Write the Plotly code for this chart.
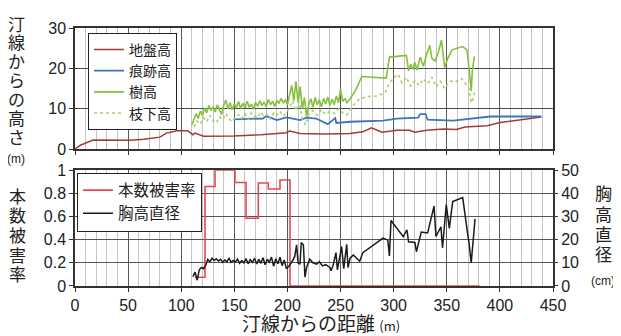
import plotly.graph_objects as go

# ---------------- data ----------------
ground_x = [0, 5, 17, 30, 52, 65, 80, 86, 96, 106, 111, 113, 118, 121, 149, 175, 199, 202, 212, 235, 259, 271, 279, 285, 289, 303, 315, 320, 331, 347, 359, 367, 388, 400, 419, 439]
ground_y = [0, 1.0, 2.3, 2.2, 2.2, 2.5, 3.0, 4.0, 4.6, 4.6, 3.6, 4.0, 3.6, 3.2, 3.3, 3.6, 4.1, 4.5, 3.9, 3.8, 3.9, 4.3, 5.3, 4.7, 4.2, 4.7, 4.7, 4.2, 4.7, 5.0, 4.9, 5.5, 5.8, 6.6, 7.2, 8.0]

trace_x = [149, 177, 180, 184, 190, 199, 212, 218, 227, 238, 243, 245, 246, 259, 290, 303, 323, 325, 330, 332, 356, 375, 391, 439]
trace_y = [7.4, 7.6, 8.2, 7.8, 7.2, 7.9, 7.2, 7.8, 7.6, 6.2, 7.3, 7.7, 6.5, 6.8, 7.1, 7.6, 7.8, 8.7, 8.7, 7.3, 7.1, 7.7, 8.1, 8.1]

tree_x = [110, 112, 114, 116, 118, 120, 122, 124, 126, 128, 130, 132, 134, 136, 138, 140, 142, 144, 146, 148,
          150, 152, 154, 156, 158, 160, 162, 164, 166, 168, 170, 172, 174, 176, 178, 180, 182, 184, 186, 188,
          190, 192, 194, 196, 198, 200, 202, 204, 206, 208, 210, 212, 214, 216, 218, 220, 222, 224, 226, 228,
          230, 232, 234, 236, 238, 240, 242, 244, 246, 248, 250, 252, 254, 256, 259, 264, 270, 293, 296, 312,
          314, 316, 318, 320, 322, 325, 328, 331, 334, 336, 339, 342, 345, 347, 348, 351, 355, 365, 369, 371,
          372, 373, 374, 376]
tree_y = [6.0, 7.5, 8.8, 7.6, 9.5, 8.4, 10.2, 9.0, 10.8, 9.6, 10.5, 9.2, 11.0, 9.8, 8.6, 10.9, 12.2, 10.0, 11.5, 9.8,
          11.2, 10.3, 11.8, 10.0, 11.4, 10.2, 11.9, 10.4, 11.2, 9.9, 11.6, 10.6, 12.0, 10.8, 11.7, 10.5, 12.3, 11.0, 11.9, 10.6,
          12.1, 11.3, 12.6, 11.5, 12.2, 11.0, 13.5, 15.8, 12.0, 16.8, 11.5, 15.5, 10.0, 12.8, 8.0, 11.0, 12.5, 10.4, 12.8, 11.0,
          12.2, 10.5, 12.6, 11.2, 12.9, 10.8, 12.4, 11.0, 13.2, 11.5, 14.9, 11.8, 12.6, 11.5, 12.5, 14.5, 18.0, 17.6, 22.8, 23.2,
          19.4, 21.0, 19.8, 21.5, 19.6, 22.8, 20.5, 23.5, 25.7, 22.5, 21.8, 24.0, 27.0, 23.0, 20.2, 22.5, 24.6, 25.4, 24.6, 20.0,
          16.2, 14.4, 19.4, 23.0]

branch_x = [112, 115, 118, 121, 124, 127, 130, 133, 136, 139, 142, 145, 148, 151, 154, 157, 160, 163, 166, 169,
            172, 175, 178, 181, 184, 187, 190, 193, 196, 199, 202, 205, 208, 211, 214, 217, 220, 224, 228, 232,
            236, 240, 244, 248, 252, 256, 260, 264, 268, 275, 285, 292, 296, 300, 304, 308, 312, 316, 320, 324,
            328, 332, 336, 340, 344, 348, 352, 356, 360, 364, 368, 371, 373, 375, 376]
branch_y = [5.5, 7.0, 6.2, 7.8, 6.8, 8.4, 7.0, 6.5, 8.0, 7.2, 8.8, 7.5, 6.8, 7.9, 8.5, 7.6, 8.8, 7.4, 9.0, 8.2,
            7.8, 9.2, 8.0, 8.6, 7.5, 9.0, 8.4, 9.4, 8.2, 9.0, 10.5, 12.0, 9.5, 11.8, 7.5, 6.0, 8.5, 9.6, 8.4, 9.8,
            8.6, 9.4, 8.8, 10.0, 9.0, 8.5, 10.2, 11.5, 12.5, 13.0, 13.2, 14.0, 16.5, 17.5, 18.6, 16.4, 17.8, 15.6, 17.0, 15.8,
            17.4, 16.2, 17.8, 15.4, 16.8, 15.0, 16.6, 17.0, 16.8, 17.5, 16.0, 15.0, 11.5, 12.5, 14.0]

damage_x = [113, 122.4, 131.8, 150.6, 161, 172.6, 182, 193, 202.4, 381]
damage_y = [0.076, 0.86, 1.0, 0.894, 0.586, 0.89, 0.838, 0.916, 0, 0]

dbh_x = [111, 113, 115, 117, 119, 121, 123, 125, 127, 129, 131, 133, 135, 137, 139, 141, 143, 145, 147, 149,
         151, 153, 155, 157, 159, 161, 163, 165, 167, 169, 171, 173, 175, 177, 179, 181, 183, 185, 187, 189,
         191, 193, 195, 197, 199, 202, 205, 207, 208.6, 210, 211.8, 213, 215, 216.5, 218, 221, 224, 227.5, 230, 233,
         236, 240, 241, 243, 245.7, 247, 249, 251, 253, 255.8, 257, 259, 262, 265, 268, 271, 290, 294.5, 296, 297.5,
         303, 309, 312.5, 314, 320, 321.4, 326, 332, 338, 339.8, 344.5, 346, 349.5, 352.4, 355.6, 365, 369.6, 371, 373, 376.6]
dbh_y = [4, 6, 2.5, 7, 8, 7.5, 9, 11.5, 10.5, 12, 11, 11.8, 10.8, 11.5, 10.2, 11.2, 10.5, 11.9, 10.2, 11.0,
         10.4, 11.6, 9.8, 11.0, 10.0, 11.8, 9.6, 11.4, 10.2, 12.0, 9.5, 11.5, 9.8, 12.2, 9.2, 11.6, 10.4, 12.5, 8.5, 11.8,
         9.6, 12.4, 8.8, 11.2, 7.5, 9.0, 11, 13, 17.8, 10, 9.4, 18.8, 17.8, 3.8, 8, 11.6, 10, 9.4, 10.5, 8.7,
         9.2, 8, 6.6, 9, 14.4, 7, 12, 17, 7.5, 18, 8, 12, 13.4, 12, 10.7, 14.4, 20.7, 19.8, 13, 28.3,
         25, 21.3, 24.3, 19.1, 18.8, 14.8, 23.3, 22.9, 34.5, 21.4, 25.6, 16.5, 35.2, 24.9, 36.5, 38.2, 22.6, 18.4, 10, 29]

x_ticks = [0, 50, 100, 150, 200, 250, 300, 350, 400, 450]
top_ticks = [0, 10, 20, 30]
bot_ticks = [0, 0.2, 0.4, 0.6, 0.8, 1]
bot_tick_text = ["0", "0.2", "0.4", "0.6", "0.8", "1"]
right_ticks = [0, 10, 20, 30, 40, 50]

# ---------------- layout helpers ----------------
# the page body has an 8px margin, so the figure is offset by 8px
OFF = 8
W, H = 621 - OFF, 336 - OFF
ML, MR, MT, MB = 75 - OFF, 68, 20 - OFF, 50
PW, PH = W - ML - MR, H - MT - MB

def px(x):
    # x in window pixels -> paper
    return (x - OFF - ML) / PW

def py(y):
    # y in window pixels -> paper
    return (H - MB - (y - OFF)) / PH

FONT = "Liberation Sans, Arial, sans-serif"
JFONT = "Noto Sans CJK JP, sans-serif"
TXT = "#222222"

fig = go.Figure()

fig.add_trace(go.Scatter(x=ground_x, y=ground_y, name="地盤高", mode="lines",
                         line=dict(color="#a23b35", width=1.5), xaxis="x", yaxis="y", legend="legend"))
fig.add_trace(go.Scatter(x=trace_x, y=trace_y, name="痕跡高", mode="lines",
                         line=dict(color="#3f72c0", width=1.8), xaxis="x", yaxis="y", legend="legend"))
fig.add_trace(go.Scatter(x=tree_x, y=tree_y, name="樹高", mode="lines",
                         line=dict(color="#86c03c", width=1.6), xaxis="x", yaxis="y", legend="legend"))
fig.add_trace(go.Scatter(x=branch_x, y=branch_y, name="枝下高", mode="lines",
                         line=dict(color="#a8d070", width=1.6, dash="dot"), xaxis="x", yaxis="y", legend="legend"))

fig.add_trace(go.Scatter(x=damage_x, y=damage_y, name="本数被害率", mode="lines",
                         line=dict(color="#e8474c", width=1.6, shape="hv"), xaxis="x2", yaxis="y2", legend="legend2"))
fig.add_trace(go.Scatter(x=dbh_x, y=dbh_y, name="胸高直径", mode="lines",
                         line=dict(color="#1a1a1a", width=1.5), xaxis="x2", yaxis="y3", legend="legend2"))

top_dom = [py(145), 1]
bot_dom = [0, py(166.7)]

xcommon = dict(range=[0, 450], tickvals=x_ticks, showgrid=True, gridcolor="#5a5a5a", gridwidth=1,
               minor=dict(dtick=10, showgrid=True, gridcolor="#c4c4c4", gridwidth=1, ticks=""),
               showline=True, linecolor="#333", linewidth=1.5, mirror=True, zeroline=False,
               ticks="outside", ticklen=4, tickcolor="#333",
               tickfont=dict(family=FONT, size=16, color=TXT))

fig.update_layout(
    width=W, height=H, margin=dict(l=ML, r=MR, t=MT, b=MB),
    paper_bgcolor="white", plot_bgcolor="white",
    xaxis=dict(xcommon, anchor="y", showticklabels=False, domain=[0, 1]),
    xaxis2=dict(xcommon, anchor="y2", showticklabels=True, domain=[0, 1]),
    yaxis=dict(domain=top_dom, range=[0, 30], tickvals=top_ticks, anchor="x",
               showgrid=True, gridcolor="#4a4a4a", zeroline=False,
               showline=True, linecolor="#333", linewidth=1.5, mirror=True,
               ticks="outside", ticklen=4, tickcolor="#333",
               tickfont=dict(family=FONT, size=16, color=TXT)),
    yaxis2=dict(domain=bot_dom, range=[0, 1], tickvals=bot_ticks, ticktext=bot_tick_text, anchor="x2",
                showgrid=True, gridcolor="#555", zeroline=False,
                showline=True, linecolor="#333", linewidth=1.5, mirror=True,
                ticks="outside", ticklen=4, tickcolor="#333",
                tickfont=dict(family=FONT, size=16, color=TXT)),
    yaxis3=dict(domain=bot_dom, range=[0, 50], tickvals=right_ticks, anchor="x2", overlaying="y2", side="right",
                showgrid=False, zeroline=False, showline=False,
                ticks="outside", ticklen=4, tickcolor="#333",
                tickfont=dict(family=FONT, size=16, color=TXT)),
    legend=dict(x=px(88), y=py(25), xanchor="left", yanchor="top", bgcolor="white",
                bordercolor="#222", borderwidth=1, tracegroupgap=0,
                font=dict(family=JFONT, size=14, color=TXT), itemwidth=30),
    legend2=dict(x=px(77), y=py(169), xanchor="left", yanchor="top", bgcolor="white",
                 bordercolor="#222", borderwidth=1, tracegroupgap=0,
                 font=dict(family=JFONT, size=15.5, color=TXT), itemwidth=30),
    showlegend=True,
)

ann = []

def vtext(chars, xc, y0, pitch, size):
    for i, ch in enumerate(chars):
        ann.append(dict(text=ch, x=px(xc), y=py(y0 + i * pitch), xref="paper", yref="paper",
                        xanchor="center", yanchor="middle", showarrow=False,
                        font=dict(family=JFONT, size=size, color=TXT)))

vtext("汀線からの高さ", 16.5, 15, 19.4, 17)
vtext("本数被害率", 17, 192.5, 20.2, 17)
vtext("胸高直径", 603, 190, 21, 17)

ann.append(dict(text="(m)", x=px(16), y=py(155), xref="paper", yref="paper", xanchor="center", yanchor="middle",
                showarrow=False, font=dict(family=FONT, size=12, color=TXT)))
ann.append(dict(text="(cm)", x=px(603), y=py(281), xref="paper", yref="paper", xanchor="center", yanchor="middle",
                showarrow=False, font=dict(family=FONT, size=12, color=TXT)))
ann.append(dict(text="汀線からの距離 <span style='font-size:13px'>(m)</span>", x=px(321), y=py(324),
                xref="paper", yref="paper", xanchor="center", yanchor="middle", showarrow=False,
                font=dict(family=JFONT, size=19, color=TXT)))

fig.update_layout(annotations=ann)

fig.write_html("out.html")
